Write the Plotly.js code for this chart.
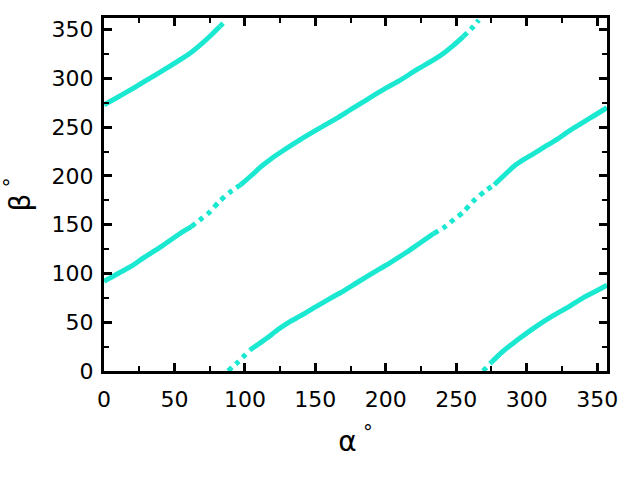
<!DOCTYPE html>
<html><head><meta charset="utf-8">
<script src="https://cdn.plot.ly/plotly-3.0.1.min.js"></script>
<style>body{margin:0;background:#fff}</style>
</head><body><div id="chart" style="width:640px;height:480px"></div>
<script>
// Curve readings (alpha in degrees, beta in degrees)
const alphaA = [0, 10, 21, 30, 45, 55, 62, 68, 75, 82, 87];
const betaA  = [273, 281, 290, 298, 311, 320, 327, 334, 343, 353, 360];

const alphaB = [0, 10, 20, 28, 40, 54, 62, 68, 75, 82, 90, 97, 105, 111, 118, 124, 139, 153, 165, 175, 184, 200, 210, 222, 235, 242, 248, 255, 262, 266];
const betaB  = [92, 100, 108, 116, 127, 141, 148, 155, 163, 174, 184, 191, 201, 209, 217, 223, 237, 249, 259, 268, 276, 290, 298, 309, 320, 327, 334, 343, 353, 360];

const alphaC = [88, 95, 103.6, 110, 115.5, 124, 132, 140, 148.6, 160, 167.5, 180, 196, 203, 215, 224, 234, 242, 248, 255, 262, 270, 277, 285, 291, 298, 305, 314, 322, 331, 340, 348, 357];
const betaC  = [0, 9, 21.6, 28, 33.5, 43, 50.6, 57, 64.4, 74, 80, 91, 105, 111, 122, 131, 141, 148, 155, 163, 174, 184, 191, 202, 210, 217, 223, 231, 238, 247, 255, 262, 270];

const alphaD = [269, 275, 283, 290, 295, 305, 319, 330, 340, 348, 357];
const betaD  = [0, 9, 20, 28, 33.5, 44, 57, 66, 75, 81, 88];

const xTicks = [0, 50, 100, 150, 200, 250, 300, 350];
const yTicks = [0, 50, 100, 150, 200, 250, 300, 350];

// styling: alpha intervals where points are sparse (drawn dotted)
const COLOR = '#1ae8d0';
const curves = [
  {x: alphaA, y: betaA, sparse: [[80, 88]]},
  {x: alphaB, y: betaB, sparse: [[64, 96], [252, 267]]},
  {x: alphaC, y: betaC, sparse: [[88, 100], [238, 276]]},
  {x: alphaD, y: betaD, sparse: [[269, 276]]}
];

const traces = [];
curves.forEach(c => {
  const isSparse = (a) => c.sparse.some(r => a >= r[0] && a <= r[1]);
  let cur = null;
  for (let i = 0; i < c.x.length - 1; i++) {
    const mid = (c.x[i] + c.x[i + 1]) / 2;
    const sp = isSparse(mid);
    if (!cur || cur.sp !== sp) {
      if (cur) traces.push(cur.t);
      cur = {sp: sp, t: {x: [c.x[i]], y: [c.y[i]], type: 'scatter', mode: 'lines',
        hoverinfo: 'skip', showlegend: false,
        line: {color: COLOR, width: 5, dash: sp ? 'dot' : 'solid', shape: 'spline', smoothing: 0.8}}};
    }
    cur.t.x.push(c.x[i + 1]);
    cur.t.y.push(c.y[i + 1]);
  }
  if (cur) traces.push(cur.t);
});

const axisCommon = {
  showgrid: false, zeroline: false,
  showline: true, linecolor: 'black', linewidth: 3, mirror: 'ticks',
  ticks: 'inside', ticklen: 8, tickwidth: 3, tickcolor: 'black',
  tickmode: 'array',
  minor: {dtick: 25, ticks: 'inside', ticklen: 5, tickwidth: 2, tickcolor: 'black'},
  tickfont: {family: 'DejaVu Sans', size: 22, color: 'black'}
};

const layout = {
  width: 640, height: 480,
  margin: {l: 104, r: 33, t: 18, b: 109},
  paper_bgcolor: 'white', plot_bgcolor: 'white',
  font: {family: 'DejaVu Sans', color: 'black'},
  xaxis: Object.assign({}, axisCommon, {
    range: [0, 357], tickvals: xTicks, ticktext: xTicks.map(String),
    ticklabelstandoff: 7,
    title: {text: 'α<sup> °</sup>', font: {size: 28, family: 'DejaVu Sans'}, standoff: 20}
  }),
  yaxis: Object.assign({}, axisCommon, {
    range: [0, 362], tickvals: yTicks, ticktext: yTicks.map(String),
    ticklabelstandoff: 3,
    title: {text: 'β<sup> °</sup>', font: {size: 28, family: 'DejaVu Sans'}, standoff: 16}
  })
};

Plotly.newPlot('chart', traces, layout, {displayModeBar: false, staticPlot: true});
</script>
</body></html>
